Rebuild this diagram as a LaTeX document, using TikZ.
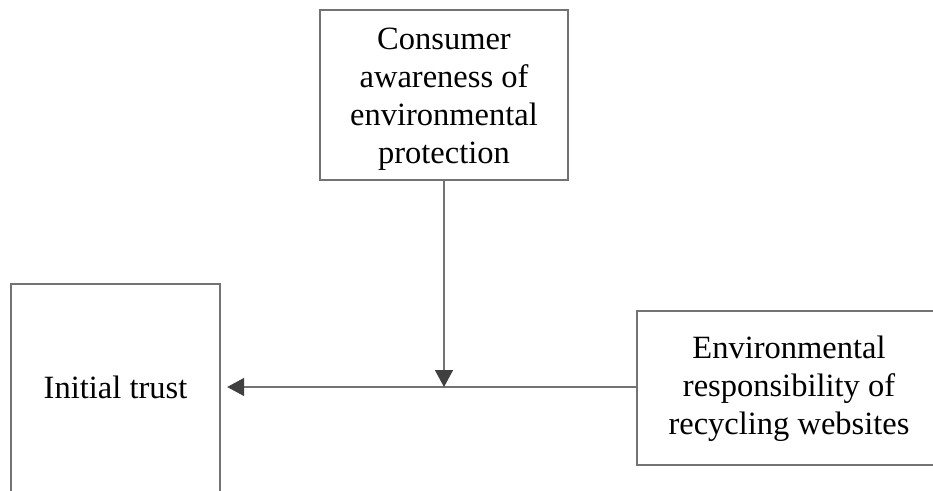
\documentclass[tikz,border=0pt]{standalone}
\usepackage{fontspec}
\setmainfont{Liberation Serif}
\usetikzlibrary{arrows.meta}
\definecolor{boxline}{gray}{0.45}
\definecolor{tipcol}{gray}{0.25}
\tikzset{
  frame/.style={draw=boxline, line width=1.5pt, inner sep=0pt},
  openframe/.style={inner sep=0pt},
  edge line/.style={draw=boxline, line width=1.5pt},
  label text/.style={inner sep=0pt, align=center,
    font=\fontsize{32.5}{38}\selectfont, text=black},
  conn/.style={draw=boxline, line width=1.5pt,
    -{Triangle[length=17pt,width=18pt,color=tipcol]}}
}
\begin{document}
\begin{tikzpicture}[x=1pt,y=-1pt]
\useasboundingbox (0,0) rectangle (933,490);
\clip (0,0) rectangle (933,490);
% frames
\node[frame, minimum width=248pt, minimum height=170pt] (tb) at (444,95) {};
\node[openframe, minimum width=209pt, minimum height=240pt] (lb) at (115.5,404) {};
\node[openframe, minimum width=340pt, minimum height=154pt] (rb) at (807,388) {};
\draw[edge line] (lb.south west) -- (lb.north west) -- (lb.north east) -- (lb.south east);
\draw[edge line] (rb.north east) -- (rb.north west) -- (rb.south west) -- (rb.south east);
% texts
\node[label text] (tt) at (444,99)
  {Consumer\\awareness of\\environmental\\protection};
\node[label text] (lt) at (115.5,387) {Initial trust};
\node[label text] (rt) at (789,389)
  {Environmental\\responsibility of\\recycling websites};
% connectors
\coordinate (src) at (rb.west |- lt.center);
\coordinate (dst) at (lb.east |- lt.center);
\coordinate (jn) at (tb.south |- lt.center);
\draw[conn, shorten >=7pt] (src) -- (dst);
\draw[conn] (tb.south) -- (jn);
\end{tikzpicture}
\end{document}
